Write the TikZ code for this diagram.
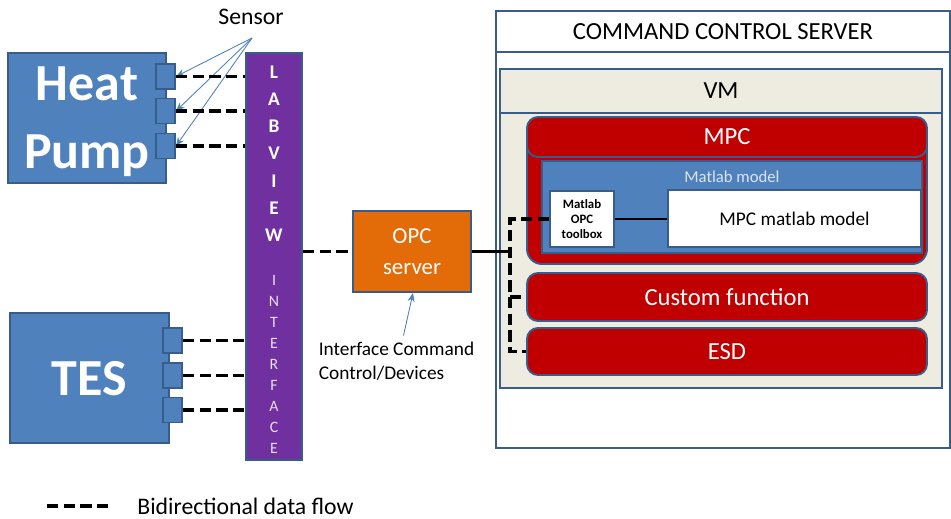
\documentclass[tikz,border=0pt]{standalone}
\usepackage{fontspec}
\setmainfont{Carlito}
\usetikzlibrary{arrows.meta}

\definecolor{hpblue}{HTML}{4F81BD}
\definecolor{edgeblue}{HTML}{385D8A}
\definecolor{lvpurple}{HTML}{7030A0}
\definecolor{opcorange}{HTML}{E36C09}
\definecolor{mpcred}{HTML}{C00000}
\definecolor{vmgrey}{HTML}{EEECE1}
\definecolor{titleblue}{HTML}{DBE5F1}
\definecolor{lavender}{HTML}{E6E0EC}

\tikzset{
	block/.style={draw=edgeblue, line width=1.1pt, inner sep=0pt},
	device/.style={block, fill=hpblue, text=white, align=center, text depth=0pt,
		font=\fontsize{29.6}{38.7}\selectfont\bfseries},
	port/.style={block, fill=hpblue, minimum width=0.38cm, minimum height=0.50cm},
	lvbig/.style={text=white, inner sep=0pt, font=\fontsize{11}{13}\selectfont\bfseries},
	lvsmall/.style={text=lavender, inner sep=0pt, font=\fontsize{9}{11}\selectfont},
	redbox/.style={block, fill=mpcred, text=white, rounded corners=0.22cm,
		minimum width=8cm, font=\fontsize{14}{17}\selectfont},
	whitebox/.style={block, fill=white, text=black},
	dataflow/.style={line width=2.2pt, dash pattern=on 6.5pt off 3pt},
	sensorline/.style={hpblue, line width=0.5pt, -{Stealth[length=5pt, width=4pt]}},
}

\begin{document}
\begin{tikzpicture}
	\useasboundingbox (0,0) rectangle (19.02,-10.36);

	\node[device, minimum width=3.16cm, minimum height=2.60cm] (hp) at (1.74,-2.36) {Heat\\Pump};
	\node[device, minimum width=3.18cm, minimum height=2.60cm] (tes) at (1.79,-7.56) {TES};
	\foreach \y [count=\i] in {-1.53,-2.22,-2.92}
		\node[port] (hp\i) at (3.31,\y) {};
	\foreach \y [count=\i] in {-6.81,-7.51,-8.20}
		\node[port] (tes\i) at (3.45,\y) {};

	\node[block, fill=lvpurple, minimum width=1.12cm, minimum height=8.14cm] (lv) at (5.48,-5.13) {};
	\foreach \l [count=\i] in {L,A,B,V,I,E,W}
		\node[lvbig] (lvb\i) at (5.48,{-1.44-0.544*(\i-1)}) {\l};
	\foreach \l [count=\i] in {I,N,T,E,R,F,A,C,E}
		\node[lvsmall] (lvs\i) at (5.48,{-5.60-0.42*(\i-1)}) {\l};

	\node[font=\fontsize{13.5}{15}\selectfont] (sensor) at (5.02,-0.34) {Sensor};
	\coordinate (sp) at (5.04,-0.76);
	\foreach \i in {1,2,3}
		\draw[sensorline] (sp) -- (hp\i.east);

	\foreach \i in {1,2,3} {
		\draw[dataflow] (hp\i.east) -- (hp\i.east -| lv.west);
		\draw[dataflow] (tes\i.east) -- (tes\i.east -| lv.west);
	}

	\node[block, fill=opcorange, text=white, align=center, minimum width=2.36cm, minimum height=1.62cm,
		font=\fontsize{13}{17.5}\selectfont] (opc) at (8.24,-5.03) {OPC\\server};
	\draw[dataflow] (opc.west -| lv.east) -- (opc.west);

	\node[align=left, font=\fontsize{11}{13.8}\selectfont] (ifc) at (7.93,-7.22)
		{Interface Command\\Control/Devices};
	\draw[sensorline] ([xshift=0.14cm]ifc.north) -- ([xshift=0.02cm]opc.south);

	\node[block, fill=white, minimum width=9.08cm, minimum height=8.74cm] (ccs) at (14.46,-4.59) {};
	\node[block, fill=white, minimum width=9.08cm, minimum height=0.82cm,
		font=\fontsize{14}{16}\selectfont] (ccstitle) at (14.46,-0.63) {COMMAND CONTROL SERVER};

	\node[block, fill=vmgrey, minimum width=8.84cm, minimum height=6.38cm] (vm) at (14.42,-4.57) {};
	\node[block, fill=vmgrey, minimum width=8.84cm, minimum height=0.88cm,
		font=\fontsize{14}{16}\selectfont] (vmtitle) at (14.42,-1.82) {VM};

	\node[redbox, minimum height=2.94cm, rounded corners=0.3cm] (mpc) at (14.54,-3.81) {};
	\node[redbox, minimum height=0.80cm] (mpchead) at (14.54,-2.74) {MPC};
	\node[block, fill=hpblue, minimum width=7.60cm, minimum height=1.84cm] (mm) at (14.64,-4.14) {};
	\node[text=titleblue, font=\fontsize{9.5}{11}\selectfont] (mmtitle) at (14.64,-3.54) {Matlab model};
	\node[whitebox, align=center, minimum width=1.28cm, minimum height=1.12cm,
		font=\fontsize{7.3}{8.5}\selectfont\bfseries] (tbx) at (11.64,-4.38) {Matlab\\OPC\\toolbox};
	\node[whitebox, minimum width=5.06cm, minimum height=1.14cm,
		font=\fontsize{11}{13}\selectfont] (mpcm) at (15.89,-4.37) {MPC matlab model};
	\draw[line width=0.6pt] (tbx.east) -- (tbx.east -| mpcm.west);

	\node[redbox, minimum height=0.96cm] (cf) at (14.54,-5.94) {Custom function};
	\node[redbox, minimum height=0.94cm] (esd) at (14.54,-7.03) {ESD};

	\coordinate (jn) at (10.20,-5.03);
	\draw[line width=2pt] (opc.east) -- (jn);
	\draw[dataflow] (tbx.west) -| (jn |- esd.west) -- (esd.west);
	\draw[dataflow] (cf.west -| jn) -- (cf.west);

	\coordinate (lg1) at (0.94,-10.12);
	\coordinate (lg2) at (2.16,-10.12);
	\draw[dataflow] (lg1) -- (lg2);
	\node[anchor=west, inner sep=0pt, font=\fontsize{13.5}{15}\selectfont] (legend) at (2.74,-10.12)
		{Bidirectional data flow};
\end{tikzpicture}
\end{document}
